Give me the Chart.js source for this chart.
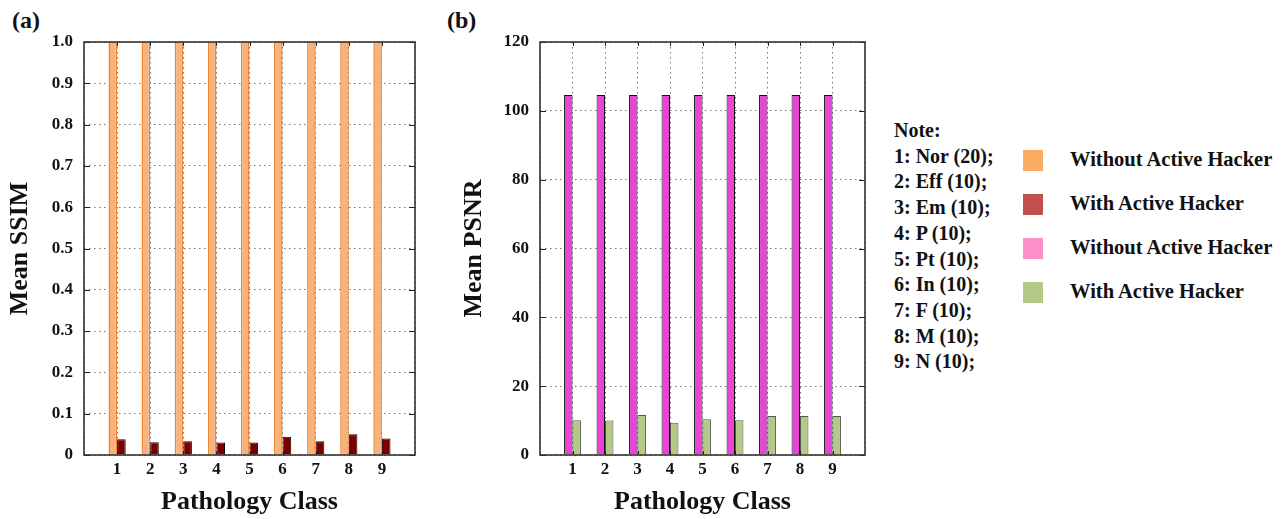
<!DOCTYPE html>
<html>
<head>
<meta charset="utf-8">
<script src="https://cdn.jsdelivr.net/npm/chart.js@4.4.0/dist/chart.umd.min.js"></script>
<style>
  body { margin: 0; background: #fff; width: 1287px; height: 519px; position: relative; overflow: hidden;
         font-family: "Liberation Serif", "Times New Roman", serif; font-weight: bold; color: #111; }
  canvas { position: absolute; top: 0; }
  #chartA { left: 0; }
  #chartB { left: 440px; }
  .panel { position: absolute; font-size: 24px; line-height: 24px; }
  #notes { position: absolute; left: 894px; top: 118px; font-size: 20px; line-height: 25.7px; }
  .leg { position: absolute; left: 1023px; font-size: 20.5px; }
  .leg span.sw { position: absolute; left: 0; top: -11px; width: 20px; height: 21px; }
  .leg span.tx { position: absolute; left: 47px; top: -13px; white-space: nowrap; }
</style>
</head>
<body>
<div class="panel" style="left:12px; top:8px;">(a)</div>
<div class="panel" style="left:447px; top:8px;">(b)</div>
<canvas id="chartA" width="430" height="519"></canvas>
<canvas id="chartB" width="440" height="519"></canvas>
<div id="notes"></div>
<div id="legend"></div>

<script>
const categories = ['1', '2', '3', '4', '5', '6', '7', '8', '9'];
const noteLines = ['Note:', '1: Nor (20);', '2: Eff (10);', '3: Em (10);', '4: P (10);',
                   '5: Pt (10);', '6: In (10);', '7: F (10);', '8: M (10);', '9: N (10);'];

const ssimWithout = [1, 1, 1, 1, 1, 1, 1, 1, 1];
const ssimWith = [0.038, 0.031, 0.033, 0.030, 0.030, 0.044, 0.033, 0.050, 0.040];
const psnrWithout = [104.6, 104.6, 104.6, 104.6, 104.6, 104.6, 104.6, 104.6, 104.6];
const psnrWith = [10.1, 10.0, 11.6, 9.4, 10.4, 10.1, 11.3, 11.3, 11.3];

const legendItems = [
    { label: 'Without Active Hacker', color: '#FBAC63' },
    { label: 'With Active Hacker', color: '#C0504D' },
    { label: 'Without Active Hacker', color: '#FF8FC8' },
    { label: 'With Active Hacker', color: '#B4C985' }
];

// empty slot at each end so categories sit at 1..9 of a 0..10 frame
const xLabels = [''].concat(categories, ['']);
function pad(arr) { return [null].concat(arr, [null]); }

const FONT = '"Liberation Serif", "Times New Roman", serif';

// frame around plot + small inward tick marks
const framePlugin = {
    id: 'frame',
    afterDatasetsDraw(chart) {
        const { ctx, chartArea: a, scales } = chart;
        ctx.save();
        ctx.setLineDash([]);
        ctx.strokeStyle = '#222';
        ctx.lineWidth = 1;
        ctx.beginPath();
        scales.y.ticks.forEach((t, i) => {
            const py = Math.round(scales.y.getPixelForTick(i)) + 0.5;
            ctx.moveTo(a.left, py); ctx.lineTo(a.left + 6, py);
            ctx.moveTo(a.right, py); ctx.lineTo(a.right - 6, py);
        });
        scales.x.ticks.forEach((t, i) => {
            if (i === 0 || i === scales.x.ticks.length - 1) return;
            const px = Math.round(scales.x.getPixelForTick(i)) + 0.5;
            ctx.moveTo(px, a.top); ctx.lineTo(px, a.top + 4);
            ctx.moveTo(px, a.bottom); ctx.lineTo(px, a.bottom - 4);
        });
        ctx.stroke();
        ctx.strokeStyle = '#333';
        ctx.lineWidth = 1.6;
        ctx.strokeRect(a.left, a.top, a.right - a.left, a.bottom - a.top);
        ctx.restore();
    }
};

function makeChart(id, cfg) {
    const ctx = document.getElementById(id).getContext('2d');
    return new Chart(ctx, {
        type: 'bar',
        data: {
            labels: xLabels,
            datasets: cfg.datasets
        },
        options: {
            responsive: false,
            animation: false,
            layout: { padding: { top: 42, right: 15, left: 0, bottom: 0 } },
            plugins: { legend: { display: false }, tooltip: { enabled: false } },
            datasets: { bar: { categoryPercentage: 0.52, barPercentage: 1 } },
            scales: {
                x: {
                    offset: false,
                    afterFit: s => { s.height = 64; },
                    border: { display: false, dash: [1.5, 3.5] },
                    grid: { offset: false, drawTicks: false, color: '#777', lineWidth: 1 },
                    ticks: {
                        autoSkip: false, maxRotation: 0, padding: 4, color: '#111',
                        font: { family: FONT, size: 17, weight: 'bold' }
                    },
                    title: {
                        display: true, text: 'Pathology Class', color: '#111',
                        padding: { top: 0, bottom: 4 },
                        font: { family: FONT, size: 26, weight: 'bold', lineHeight: 1 }
                    }
                },
                y: {
                    min: 0, max: cfg.yMax,
                    afterFit: s => { s.width = cfg.yWidth; },
                    border: { display: false, dash: [1.5, 3.5] },
                    grid: { drawTicks: false, color: '#777', lineWidth: 1 },
                    ticks: {
                        stepSize: cfg.yStep, padding: 11, color: '#111',
                        font: { family: FONT, size: 17, weight: 'bold' },
                        callback: cfg.tickFmt
                    },
                    title: {
                        display: true, text: cfg.yTitle, color: '#111',
                        padding: { top: cfg.titlePad, bottom: 0 },
                        font: { family: FONT, size: 26, weight: 'bold', lineHeight: 1 }
                    }
                }
            }
        },
        plugins: [framePlugin]
    });
}

makeChart('chartA', {
    yMax: 1, yStep: 0.1, yWidth: 84, titlePad: 7, yTitle: 'Mean SSIM',
    tickFmt: v => v === 0 ? '0' : v.toFixed(1),
    datasets: [
        { label: 'Without Active Hacker', data: pad(ssimWithout), backgroundColor: '#F8B37C',
          borderColor: '#EF8433', borderWidth: { left: 1.5, right: 1.5, top: 0, bottom: 0 } },
        { label: 'With Active Hacker', data: pad(ssimWith), backgroundColor: '#7A0000',
          borderColor: '#200000', borderWidth: 1 }
    ]
});

makeChart('chartB', {
    yMax: 120, yStep: 20, yWidth: 100, titlePad: 21, yTitle: 'Mean PSNR',
    tickFmt: v => String(v),
    datasets: [
        { label: 'Without Active Hacker', data: pad(psnrWithout), backgroundColor: '#E646D3',
          borderColor: '#111', borderWidth: 1 },
        { label: 'With Active Hacker', data: pad(psnrWith), backgroundColor: '#B3C986',
          borderColor: '#555', borderWidth: 1 }
    ]
});

// note list and legend (text as real text)
document.getElementById('notes').innerHTML = noteLines.map(t => '<div>' + t + '</div>').join('');
const legendEl = document.getElementById('legend');
legendItems.forEach((item, i) => {
    const d = document.createElement('div');
    d.className = 'leg';
    d.style.top = (161 + i * 44) + 'px';
    d.innerHTML = '<span class="sw" style="background:' + item.color + '"></span><span class="tx">' + item.label + '</span>';
    legendEl.appendChild(d);
});
</script>
</body>
</html>
